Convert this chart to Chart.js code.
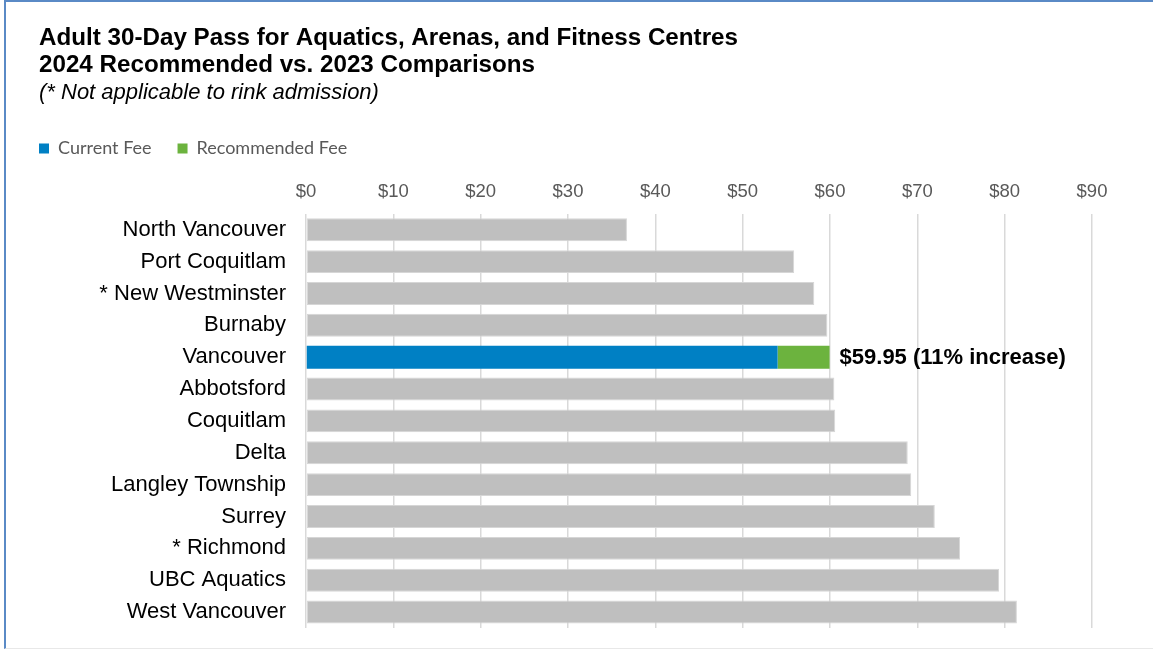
<!DOCTYPE html>
<html>
<head>
<meta charset="utf-8">
<title>Adult 30-Day Pass comparisons</title>
<script src="https://cdn.jsdelivr.net/npm/chart.js@4.4.1/dist/chart.umd.min.js"></script>
<style>
  html, body { margin: 0; padding: 0; background: #fff; }
  #wrap { position: relative; width: 1153px; height: 651px; }
  #frame {
    position: absolute; left: 4px; top: 0; width: 1149px; height: 649px;
    border-top: 2px solid #5a8ac6; border-left: 2px solid #5a8ac6;
    border-bottom: 1px solid #e8e8e8; box-sizing: border-box; pointer-events: none;
  }
</style>
</head>
<body>
<div id="wrap">
  <canvas id="fees" width="1153" height="651"></canvas>
  <div id="frame"></div>
</div>
<script>
// values (dollars)
const cities = [
  'North Vancouver', 'Port Coquitlam', '* New Westminster', 'Burnaby', 'Vancouver',
  'Abbotsford', 'Coquitlam', 'Delta', 'Langley Township', 'Surrey',
  '* Richmond', 'UBC Aquatics', 'West Vancouver'
];
const otherFees = [36.75, 55.9, 58.2, 59.7, null, 60.5, 60.6, 68.9, 69.3, 72.0, 74.9, 79.35, 81.4];
const currentFee = [null, null, null, null, 54.0, null, null, null, null, null, null, null, null];
const recommendedIncrease = [null, null, null, null, 5.95, null, null, null, null, null, null, null, null];
const xTicks = [0, 10, 20, 30, 40, 50, 60, 70, 80, 90];
const vancouverNote = '$59.95 (11% increase)';

const titleLines = [
  'Adult 30-Day Pass for Aquatics, Arenas, and Fitness Centres',
  '2024 Recommended vs. 2023 Comparisons'
];
const subtitleText = '(* Not applicable to rink admission)';

const GREY = '#bfbfbf', BLUE = '#0080c4', GREEN = '#6cb33e';
const LEGEND_GAP = 26;

// legend labels start at left + padding; pull it back so it lines up with the title
const legendShift = {
  id: 'legendShift',
  afterLayout(chart) {
    chart.legend.left -= LEGEND_GAP;
    chart.legend.right -= LEGEND_GAP;
  }
};

// label at the end of the Vancouver bar
const endLabel = {
  id: 'endLabel',
  afterDatasetsDraw(chart) {
    const meta = chart.getDatasetMeta(2);
    const i = cities.indexOf('Vancouver');
    const bar = meta.data[i];
    if (!bar) return;
    const ctx = chart.ctx;
    ctx.save();
    ctx.font = 'bold 22px "Liberation Sans", Arial, sans-serif';
    ctx.fillStyle = '#000';
    ctx.textBaseline = 'middle';
    ctx.textAlign = 'left';
    ctx.fillText(vancouverNote, bar.x + 10, bar.y + 1);
    ctx.restore();
  }
};

new Chart(document.getElementById('fees'), {
  type: 'bar',
  data: {
    labels: cities,
    datasets: [
      { label: 'Other', data: otherFees, backgroundColor: GREY,
        borderColor: '#d6d6d6', borderWidth: 1, borderSkipped: false },
      { label: 'Current Fee', data: currentFee, backgroundColor: BLUE },
      { label: 'Recommended Fee', data: recommendedIncrease, backgroundColor: GREEN }
    ]
  },
  options: {
    indexAxis: 'y',
    responsive: false,
    animation: false,
    datasets: { bar: { categoryPercentage: 1, barPercentage: 0.72 } },
    layout: { padding: { top: 25, left: 39, right: 61, bottom: 23 } },
    scales: {
      x: {
        position: 'top',
        stacked: true,
        min: 0,
        max: 90,
        afterBuildTicks(scale) { scale.ticks = xTicks.map(v => ({ value: v })); },
        afterFit(scale) { scale.height += 2; },
        grid: { color: '#d9d9d9', lineWidth: 1.5, drawTicks: false },
        border: { display: false },
        ticks: {
          padding: 11,
          color: '#595959',
          font: { family: '"Liberation Sans", Arial, sans-serif', size: 18.5 },
          callback: v => '$' + v
        }
      },
      y: {
        stacked: true,
        grid: { display: false, drawTicks: false },
        border: { display: false },
        afterFit(scale) {
          scale.width = 267;
          scale.paddingTop = 0;
          scale.paddingBottom = 0;
        },
        ticks: {
          padding: 20,
          color: '#000',
          font: { family: '"Liberation Sans", Arial, sans-serif', size: 22 }
        }
      }
    },
    plugins: {
      tooltip: { enabled: false },
      title: {
        display: true,
        text: titleLines,
        align: 'start',
        color: '#000',
        padding: { top: 0, bottom: 0 },
        font: { family: '"Liberation Sans", Arial, sans-serif', size: 24.2, weight: 'bold', lineHeight: 1.12 }
      },
      subtitle: {
        display: true,
        text: subtitleText,
        align: 'start',
        color: '#000',
        padding: { top: 0, bottom: 8 },
        font: { family: '"Liberation Sans", Arial, sans-serif', size: 22, style: 'italic', lineHeight: 1.2 }
      },
      legend: {
        display: true,
        position: 'top',
        align: 'start',
        labels: {
          boxWidth: 10,
          boxHeight: 10,
          padding: LEGEND_GAP,
          color: '#595959',
          font: { family: 'Lato, "Open Sans", sans-serif', size: 18 },
          filter: item => item.text !== 'Other'
        }
      }
    }
  },
  plugins: [legendShift, endLabel]
});
</script>
</body>
</html>
